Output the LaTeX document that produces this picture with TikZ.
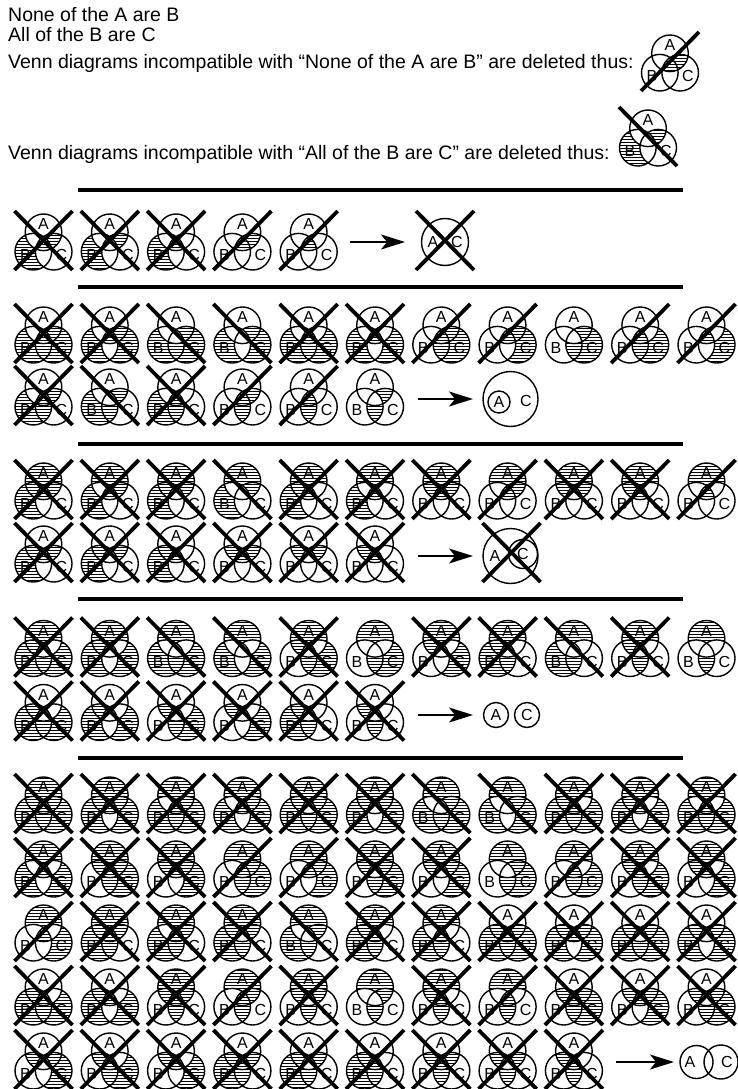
\documentclass[tikz,border=0pt]{standalone}
\usepackage{fontspec}
\setmainfont{Liberation Sans}
\usetikzlibrary{arrows.meta}
\pgfdeclarelayer{shade}
\pgfdeclarelayer{gaps}
\pgfsetlayers{shade,gaps,main}

% regions: a=A only, b=B only, c=C only, d=AB, e=AC, f=BC, g=ABC
\def\vra{\fill[shade] (18.0721,-6.8203) arc[start angle=9.054,end angle=-189.054,radius=18.3] arc[start angle=-115.476,end angle=-56.126,radius=18.3] arc[start angle=-123.874,end angle=-64.524,radius=18.3] -- cycle;}
\def\vrb{\fill[shade] (-18.0721,-6.8203) arc[start angle=-115.476,end angle=-303.874,radius=18.3] arc[start angle=123.874,end angle=189.054,radius=18.3] arc[start angle=115.476,end angle=170.946,radius=18.3] -- cycle;}
\def\vrc{\fill[shade] (18.0721,-6.8203) arc[start angle=-64.524,end angle=123.874,radius=18.3] arc[start angle=56.126,end angle=-9.054,radius=18.3] arc[start angle=64.524,end angle=9.054,radius=18.3] -- cycle;}
\def\vrd{\fill[shade] (-18.0721,-6.8203) arc[start angle=170.946,end angle=115.476,radius=18.3] arc[start angle=189.054,end angle=236.126,radius=18.3] arc[start angle=-56.126,end angle=-115.476,radius=18.3] -- cycle;}
\def\vre{\fill[shade] (18.0721,-6.8203) arc[start angle=9.054,end angle=64.524,radius=18.3] arc[start angle=-9.054,end angle=-56.126,radius=18.3] arc[start angle=-123.874,end angle=-64.524,radius=18.3] -- cycle;}
\def\vrf{\fill[shade] (-7.8721,6.8203) arc[start angle=115.476,end angle=64.524,radius=18.3] arc[start angle=-9.054,end angle=56.126,radius=18.3] arc[start angle=123.874,end angle=189.054,radius=18.3] -- cycle;}
\def\vrg{\fill[shade] (0,-5.4938) arc[start angle=-56.126,end angle=-9.054,radius=18.3] arc[start angle=64.524,end angle=115.476,radius=18.3] arc[start angle=189.054,end angle=236.126,radius=18.3] -- cycle;}
\def\shadenext#1{\ifx#1\relax\else\csname vr#1\endcsname\expandafter\shadenext\fi}
\def\shadeall#1{\expandafter\shadenext#1\relax}
\def\delR{\draw[xline] (-29,-31) -- (29,28);}
\def\delL{\draw[xline] (-29,28) -- (29,-31);}
\def\delX{\delR\delL}
\def\delN{}
\newcounter{vn}
\newcommand{\vennat}[3]{%
  \stepcounter{vn}%
  \begin{scope}[shift={(#1)}]
    \begin{pgfonlayer}{shade}\shadeall{#2}\end{pgfonlayer}
    \draw[ring] (0,-9.7) circle[radius=18.3] (-10.2,9.7) circle[radius=18.3] (10.2,9.7) circle[radius=18.3];
    \node[lbl] (v\thevn A) at (0,-18) {A};
    \node[lbl] (v\thevn B) at (-18,13) {B};
    \node[lbl] (v\thevn C) at (18,13) {C};
    \csname del#3\endcsname
  \end{scope}}

\begin{document}
\begin{tikzpicture}[x=1pt, y=-1pt,
  ring/.style={line width=1.4pt},
  shade/.style={fill=black},
  gap/.style={white, line width=1.1pt},
  xline/.style={line width=3.8pt},
  lbl/.style={font=\fontsize{16}{16}\selectfont, inner sep=0pt},
  txt/.style={font=\fontsize{19.5}{22}\selectfont, anchor=base west, inner sep=0pt},
  rule/.style={line width=3.5pt},
  arr/.style={line width=1.5pt, -{Stealth[length=24pt,width=15pt,inset=6pt]}},
  res/.style={draw, circle, line width=1.4pt, inner sep=0pt, font=\fontsize{16}{16}\selectfont}
]
  \begin{pgfonlayer}{shade}
    \fill[white] (0,0) rectangle (738,1089);
  \end{pgfonlayer}
  \useasboundingbox (0,0) rectangle (738,1089);

  \node[txt] (p1) at (8,22) {None of the A are B};
  \node[txt] (p2) at (8,42) {All of the B are C};
  \node[txt] (d1) at (8,69) {Venn diagrams incompatible with “None of the A are B” are deleted thus:};
  \node[txt] (d2) at (8,160) {Venn diagrams incompatible with “All of the B are C” are deleted thus:};
  \vennat{670,63}{eg}{L}
  \vennat{648,138}{be}{R}

  \foreach \y in {190,287,444,599,758}
    \draw[rule] (78,\y) -- (683,\y);

  % A and C coincide
  \foreach \rg/\dl [count=\i from 0] in {beg/X, be/X, bg/X, eg/L, g/L}
    {\vennat{43.5+66.3*\i,242}{\rg}{\dl}}
  \coordinate (a1s) at (350,242);
  \coordinate (a1e) at (405,242);
  \draw[arr] (a1s) -- (a1e);
  \node[res, minimum size=47pt] (res1) at (445,242) {};
  \node[lbl] (res1A) at (433,242) {A};
  \node[lbl] (res1C) at (457,242) {C};
  \begin{scope}[shift={(res1)}]\delX\end{scope}

  % A inside C
  \foreach \rg/\dl [count=\i from 0] in {bcefg/X, bceg/X, bcef/R, bce/R, bcfg/X, bcg/X, cefg/L, ceg/L, cef/N, cfg/L, cg/L}
    {\vennat{43.5+66.3*\i,335}{\rg}{\dl}}
  \foreach \rg/\dl [count=\i from 0] in {befg/X, bef/R, bfg/X, efg/L, fg/L, ef/N}
    {\vennat{43.5+66.3*\i,397}{\rg}{\dl}}
  \coordinate (a2s) at (418,399);
  \coordinate (a2e) at (473,399);
  \draw[arr] (a2s) -- (a2e);
  \node[res, minimum size=55pt] (res2) at (510.5,399) {};
  \node[res, minimum size=22pt] (res2A) at (499,402) {A};
  \node[lbl] (res2C) at (526,401) {C};

  % C inside A
  \foreach \rg/\dl [count=\i from 0] in {abdeg/X, abeg/X, abde/X, abe/R, abdg/X, abg/X, adeg/X, aeg/L, ade/X, adg/X, ag/L}
    {\vennat{43.5+66.3*\i,491}{\rg}{\dl}}
  \foreach \rg/\dl [count=\i from 0] in {bdeg/X, bde/X, bdg/X, deg/X, de/X, dg/X}
    {\vennat{43.5+66.3*\i,554}{\rg}{\dl}}
  \coordinate (a3s) at (418,556);
  \coordinate (a3e) at (473,556);
  \draw[arr] (a3s) -- (a3e);
  \node[res, minimum size=55pt] (res3) at (510.5,556) {};
  \node[res, minimum size=29pt] (res3C) at (523,554) {C};
  \node[lbl] (res3A) at (495,556) {A};
  \begin{scope}[shift={(511.5,554)}]\delX\end{scope}

  % A and C apart
  \foreach \rg/\dl [count=\i from 0] in {abcdf/X, abcd/X, abcf/R, abc/R, acdf/X, acf/N, acd/X, abdf/X, abf/R, adf/X, af/N}
    {\vennat{43.5+66.3*\i,648.5}{\rg}{\dl}}
  \foreach \rg/\dl [count=\i from 0] in {bcdf/X, bcd/X, cdf/X, cd/X, bdf/X, df/X}
    {\vennat{43.5+66.3*\i,712.5}{\rg}{\dl}}
  \coordinate (a4s) at (418,715);
  \coordinate (a4e) at (473,715);
  \draw[arr] (a4s) -- (a4e);
  \node[res, minimum size=25pt] (res4A) at (496,715) {A};
  \node[res, minimum size=25pt] (res4C) at (527,715) {C};

  % A and C overlap
  \foreach \rg/\dl [count=\i from 0] in {abcdefg/X, abcdeg/X, abcefg/X, abceg/X, abcdef/X, abcde/X, abcef/R, abce/R, abcdfg/X, abcdg/X, abcfg/X}
    {\vennat{43.5+66.3*\i,805}{\rg}{\dl}}
  \foreach \rg/\dl [count=\i from 0] in {abcg/X, acdefg/X, acdeg/X, acefg/L, aceg/L, acdef/X, acde/X, acef/N, acfg/L, acdfg/X, acdg/X}
    {\vennat{43.5+66.3*\i,869}{\rg}{\dl}}
  \foreach \rg/\dl [count=\i from 0] in {acg/L, abdefg/X, abefg/X, abdef/X, abef/R, abdfg/X, abfg/X, bcdefg/X, bcdeg/X, bcdef/X, bcde/X}
    {\vennat{43.5+66.3*\i,933}{\rg}{\dl}}
  \foreach \rg/\dl [count=\i from 0] in {bcdfg/X, bcdg/X, adefg/X, aefg/L, adef/X, aef/N, adfg/X, afg/L, cdefg/X, cdeg/X, cdef/X}
    {\vennat{43.5+66.3*\i,997}{\rg}{\dl}}
  \foreach \rg/\dl [count=\i from 0] in {cde/X, cdfg/X, cdg/X, bdefg/X, bdef/X, bdfg/X, defg/X, def/X, dfg/X}
    {\vennat{43.5+66.3*\i,1061}{\rg}{\dl}}
  \coordinate (a5s) at (616,1062);
  \coordinate (a5e) at (674,1062);
  \draw[arr] (a5s) -- (a5e);
  \node[res, minimum size=33pt] (res5A) at (696.5,1062) {};
  \node[res, minimum size=34pt] (res5C) at (721,1062) {};
  \node[lbl] (res5a) at (690,1062) {A};
  \node[lbl] (res5c) at (727,1062) {C};

  \begin{pgfonlayer}{gaps}
    \draw[gap] \foreach \k in {27,30,...,1089} {(0,\k) -- (738,\k)};
  \end{pgfonlayer}
\end{tikzpicture}
\end{document}
